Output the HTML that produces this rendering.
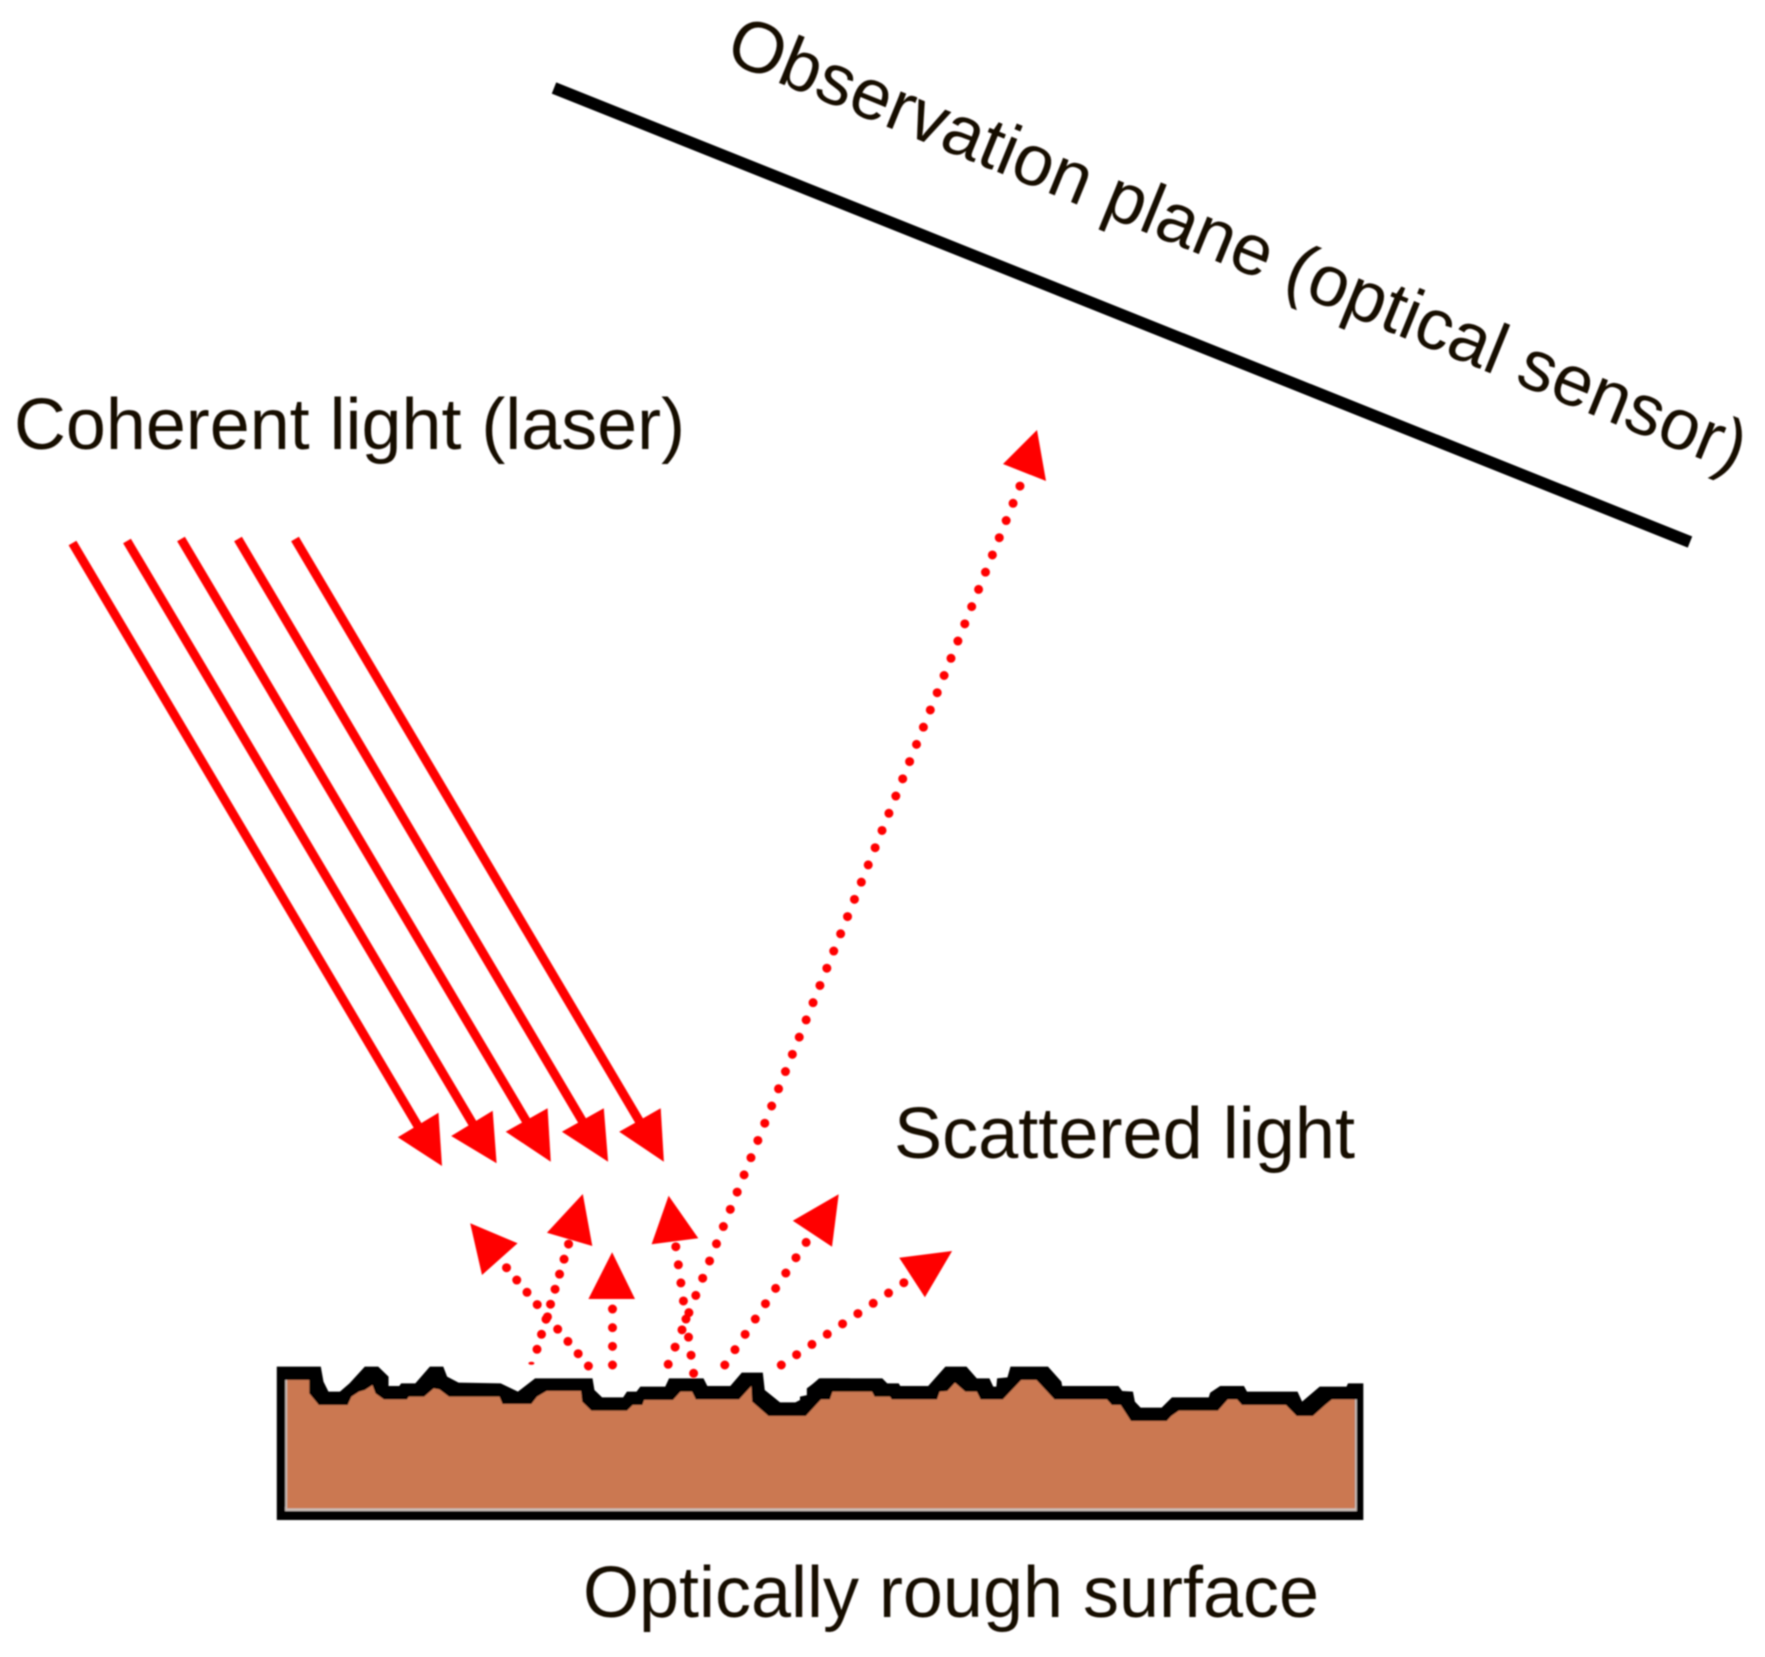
<!DOCTYPE html>
<html><head><meta charset="utf-8"><style>html,body{margin:0;padding:0;background:#fff}svg{display:block}text{font-family:"Liberation Sans",sans-serif;fill:#170f06;font-size:72px}</style></head>
<body>
<svg width="1765" height="1657" viewBox="0 0 1765 1657" xmlns="http://www.w3.org/2000/svg">
<defs><filter id="b" x="-2%" y="-2%" width="104%" height="104%"><feGaussianBlur stdDeviation="0.9"/></filter></defs>
<rect width="1765" height="1657" fill="#fff"/>
<g filter="url(#b)">
<line x1="554" y1="88" x2="1690" y2="542" stroke="#000" stroke-width="12"/>
<text transform="translate(723 60) rotate(22.2)" textLength="1093" lengthAdjust="spacingAndGlyphs">Observation plane (optical sensor)</text>
<text x="14" y="449" textLength="671" lengthAdjust="spacingAndGlyphs">Coherent light (laser)</text>
<text x="894" y="1158" textLength="461" lengthAdjust="spacingAndGlyphs">Scattered light</text>
<text x="583" y="1617" textLength="736" lengthAdjust="spacingAndGlyphs">Optically rough surface</text>

<g stroke="#f00" stroke-width="9" fill="none">
<line x1="72.5" y1="543" x2="425" y2="1138"/>
<line x1="127" y1="541" x2="480" y2="1136"/>
<line x1="181" y1="539" x2="534" y2="1134"/>
<line x1="238" y1="539" x2="590" y2="1134"/>
<line x1="295" y1="539" x2="647" y2="1134"/>
</g>
<g fill="#f00">
<polygon points="438.5,1112.7 397.8,1137.3 442,1166"/>
<polygon points="492.7,1110.7 451.2,1136 496.6,1163.3"/>
<polygon points="547.6,1108.3 505.7,1131.7 550.8,1161.7"/>
<polygon points="603.8,1108.3 561.9,1131.7 608.1,1161.7"/>
<polygon points="660.7,1108.3 619.2,1131.7 663.9,1161.7"/>
<polygon points="470.2,1223.3 517.6,1243.3 482,1275"/>
<polygon points="582.8,1194 546.9,1232.7 592.3,1246"/>
<polygon points="612.1,1252.3 588.4,1299 635,1299"/>
<polygon points="668.6,1195.7 651.6,1244.3 698.3,1238.3"/>
<polygon points="838.7,1194.3 792.8,1220.7 832,1246.7"/>
<polygon points="952.1,1251 899.2,1257.7 924.9,1297.3"/>
<polygon points="1037,430 1003,464 1046,481"/>
<ellipse cx="531.4" cy="1363.3" rx="3" ry="1.5"/>
</g>
<g stroke="#f00" stroke-width="9" stroke-linecap="round" fill="none">
<line x1="588.4" y1="1366" x2="506.5" y2="1267.7" stroke-dasharray="0 15.99"/>
<line x1="537" y1="1349.3" x2="568.6" y2="1244" stroke-dasharray="0 15.69"/>
<line x1="612.5" y1="1365" x2="612.5" y2="1309" stroke-dasharray="0 18.66"/>
<line x1="693.6" y1="1373.3" x2="675.8" y2="1246.7" stroke-dasharray="0 18.26"/>
<line x1="724.8" y1="1365" x2="806.2" y2="1242.3" stroke-dasharray="0 18.39"/>
<line x1="781.3" y1="1365" x2="903.9" y2="1282.7" stroke-dasharray="0 18.45"/>
<line x1="668.2" y1="1364.3" x2="1020" y2="486" stroke-dasharray="0 18.55"/>
</g>

<g transform="translate(250 1340) scale(.3827 .3333)">
<polygon fill="#000" points="70,80 185,80 192,125 205,155 235,155 260,130 300,80 335,80 362,110 362,138 390,138 395,130 432,130 470,80 505,80 515,110 545,128 655,130 700,155 745,115 895,115 900,150 920,172 975,172 985,155 1010,155 1020,140 1085,140 1095,115 1185,115 1195,138 1255,138 1285,98 1340,98 1345,150 1385,187 1425,187 1455,170 1455,145 1490,115 1568,115 1568,540 70,540"/>
<rect x="92" y="120" width="6" height="393" fill="#c9bdb7"/>
<rect x="92" y="500" width="1476" height="13" fill="#c9bdb7"/>
<polygon fill="#cb7851" points="97,120 155,120 155,160 180,195 255,195 265,170 285,155 300,150 320,135 328,160 350,178 410,178 415,170 455,170 480,145 495,148 520,170 652,170 660,192 735,192 750,170 775,153 865,153 868,185 892,212 985,212 1000,195 1025,195 1030,180 1105,180 1125,155 1155,155 1165,178 1278,178 1310,138 1312,185 1355,228 1450,228 1490,180 1515,155 1568,155 1568,505 97,505"/>
</g>
<g transform="translate(800 1340) scale(.3827 .3333)">
<polygon fill="#000" points="0,170 20,165 20,145 50,115 215,115 228,130 258,130 262,138 335,138 380,80 435,80 462,115 495,115 505,140 513,140 515,115 542,112 550,80 648,80 683,125 685,138 832,138 842,153 870,155 875,185 890,203 945,203 972,172 1068,172 1072,158 1098,138 1160,138 1168,155 1300,155 1312,185 1358,140 1428,140 1432,130 1472,130 1472,540 0,540"/>
<polygon fill="#c9bdb7" points="0,513 0,500 1450,500 1450,178 1455,178 1455,513"/>
<polygon fill="#cb7851" points="0,228 15,228 55,178 78,178 85,155 188,155 195,170 235,170 240,178 358,178 365,155 385,153 405,128 432,155 462,155 472,178 530,178 578,120 618,120 665,178 802,178 815,195 838,195 865,243 958,243 970,228 990,212 1092,212 1118,178 1142,178 1155,195 1270,195 1298,228 1340,228 1372,195 1390,178 1450,178 1450,505 0,505"/>
</g>
</g>
</svg>
</body></html>
